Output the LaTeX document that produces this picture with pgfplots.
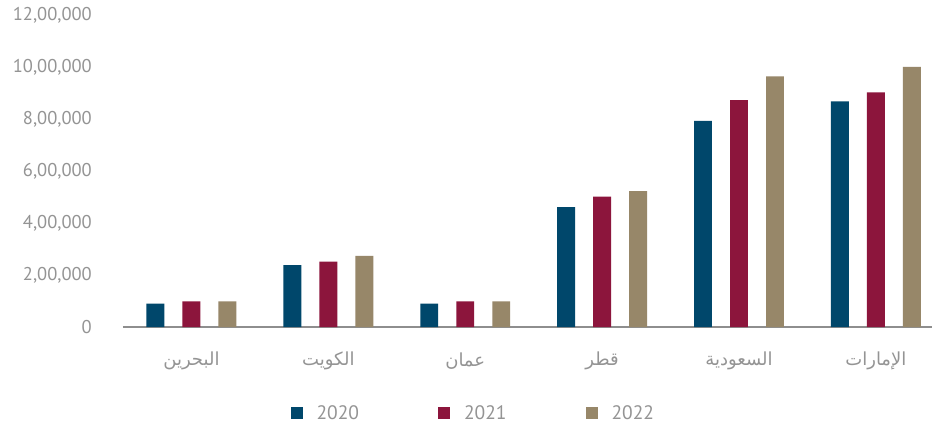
\documentclass[border=0pt]{standalone}
\usepackage{pgfplots}
\pgfplotsset{compat=1.18}
\usepackage{fontspec}
\setmainfont{PT Sans}
\newfontfamily\arabicfont[Script=Arabic]{DejaVu Sans}
\TeXXeTstate=1
\definecolor{cA}{HTML}{00476B}
\definecolor{cB}{HTML}{8C153C}
\definecolor{cC}{HTML}{978769}
\definecolor{tgrey}{HTML}{949494}
\definecolor{agrey}{HTML}{8E8E8E}
\begin{document}
\begin{tikzpicture}
\path[use as bounding box, fill=white] (-123bp,-96bp) rectangle (809bp,327bp);
\begin{axis}[
  at={(0,0)}, anchor=south west,
  scale only axis, width=809bp, height=312bp,
  xmin=-0.5, xmax=5.41, ymin=0, ymax=1200000,
  ybar, bar width=0.131,
  axis lines*=left,
  x axis line style={draw=agrey, line width=1.5bp},
  y axis line style={draw=none},
  tick style={draw=none},
  clip=false,
  scaled y ticks=false,
  ytick={0,200000,400000,600000,800000,1000000,1200000},
  yticklabels={0,{2,00,000},{4,00,000},{6,00,000},{8,00,000},{10,00,000},{12,00,000}},
  yticklabel style={anchor=east, inner sep=0pt, xshift=-31bp, text=tgrey, font=\fontsize{18.5bp}{22bp}\selectfont},
  xtick={0,1,2,3,4,5},
  xticklabels={
    {\arabicfont\beginR البحرين\endR},
    {\arabicfont\beginR الكويت\endR},
    {\arabicfont\beginR عمان\endR},
    {\arabicfont\beginR قطر\endR},
    {\arabicfont\beginR السعودية\endR},
    {\arabicfont\beginR الإمارات\endR}},
  xticklabel style={anchor=center, inner sep=0pt, yshift=-30bp, text=tgrey, font=\fontsize{18bp}{21bp}\selectfont},
  legend style={at={(0.433,-0.276)}, anchor=center, draw=none, fill=none,
    legend columns=3, text=tgrey, font=\fontsize{19.5bp}{22bp}\selectfont,
    /tikz/every odd column/.append style={column sep=12bp},
    /tikz/every even column/.append style={column sep=77bp}},
  legend image code/.code={\fill[#1] (0bp,-6bp) rectangle (12bp,6bp);},
]
\addplot[fill=cA, draw=none, bar shift=-0.263] coordinates {(0,90000) (1,238000) (2,90000) (3,461000) (4,793000) (5,868000)};
\addplot[fill=cB, draw=none, bar shift=0] coordinates {(0,99000) (1,251000) (2,99000) (3,501000) (4,873000) (5,902000)};
\addplot[fill=cC, draw=none, bar shift=0.263] coordinates {(0,99000) (1,274000) (2,99000) (3,523000) (4,964000) (5,1000000)};
\legend{2020,2021,2022}
\end{axis}
\end{tikzpicture}
\end{document}
